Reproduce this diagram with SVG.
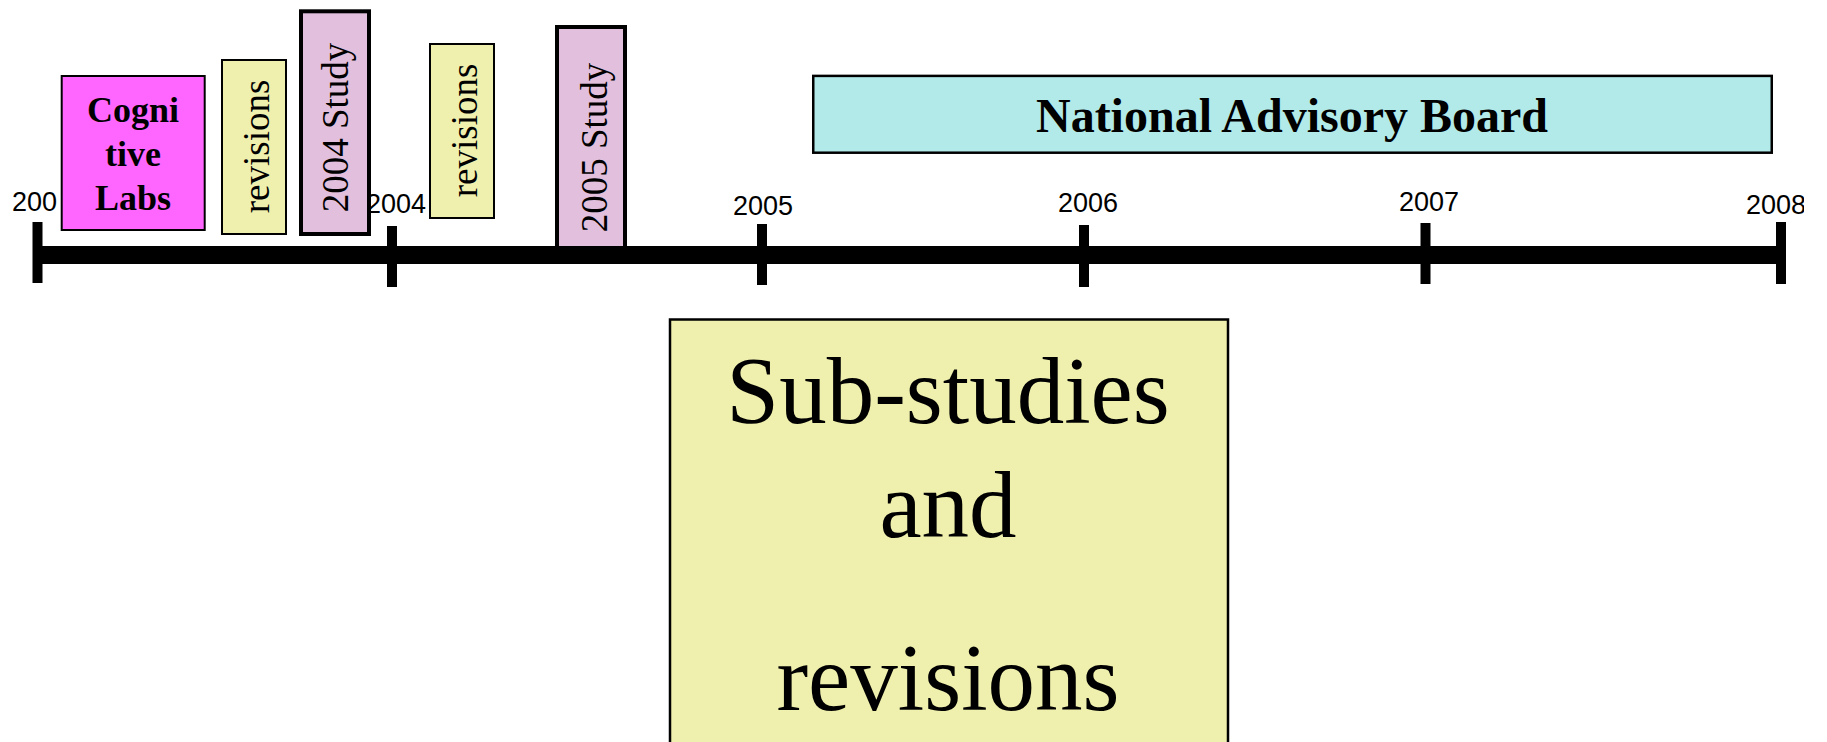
<svg xmlns="http://www.w3.org/2000/svg" width="1827" height="742" viewBox="0 0 1827 742">
  <defs>
    <!-- page edge: the last year label runs off it -->
    <clipPath id="page-edge">
      <rect x="0" y="0" width="1804" height="742"/>
    </clipPath>
  </defs>
  <style>
    .year { font-family: "Liberation Sans", Arial, sans-serif; font-size: 27px; fill: #000; }
    .tick { fill: #000; }
    .box { stroke: #000; stroke-width: 2; }
    .study { fill: #E1BFDD; stroke: #000; stroke-width: 4; }
    .rev { fill: #F0F0AE; }
    .serif { font-family: "Liberation Serif", "Times New Roman", serif; fill: #000; }
    .vlabel { font-size: 37px; text-anchor: middle; }
  </style>

  <!-- year labels along the axis -->
  <g id="year-labels" clip-path="url(#page-edge)">
    <text class="year" x="12" y="211">200</text>
    <text class="year" x="426" y="213" text-anchor="end">2004</text>
    <text class="year" x="763" y="215" text-anchor="middle">2005</text>
    <text class="year" x="1088" y="212" text-anchor="middle">2006</text>
    <text class="year" x="1429" y="211" text-anchor="middle">2007</text>
    <text class="year" x="1746" y="214">2008</text>
  </g>

  <g id="cognitive-labs">
    <rect class="box" x="61.7" y="76" width="143" height="154" fill="#FF66FF"/>
    <text class="serif" font-weight="bold" font-size="36" text-anchor="middle"><tspan x="133" y="121.5">Cogni</tspan><tspan x="133" y="166">tive</tspan><tspan x="133" y="210">Labs</tspan></text>
  </g>

  <g id="revisions-2003">
    <rect class="box rev" x="222" y="60" width="64" height="174"/>
    <text class="serif vlabel" transform="translate(254,146.5) rotate(-90)" x="0" y="15">revisions</text>
  </g>

  <g id="study-2004">
    <rect class="study" x="301" y="11.3" width="68" height="222.7"/>
    <text class="serif vlabel" transform="translate(335,127.5) rotate(-90)" x="0" y="13">2004 Study</text>
  </g>

  <g id="revisions-2004">
    <rect class="box rev" x="430" y="44" width="64" height="174"/>
    <text class="serif vlabel" transform="translate(462,130.5) rotate(-90)" x="0" y="15">revisions</text>
  </g>

  <g id="study-2005">
    <rect class="study" x="557" y="27" width="68" height="225"/>
    <text class="serif vlabel" transform="translate(591,147.5) rotate(-90)" x="0" y="16">2005 Study</text>
  </g>

  <g id="national-advisory-board">
    <rect x="813.25" y="75.9" width="958.5" height="76.8" fill="#B2EAEA" stroke="#000" stroke-width="2.5"/>
    <text class="serif" x="1292" y="132" font-size="48" font-weight="bold" text-anchor="middle">National Advisory Board</text>
  </g>

  <g id="sub-studies">
    <rect x="670" y="319.5" width="558" height="500" fill="#F0F0AE" stroke="#000" stroke-width="2.5"/>
    <text class="serif" font-size="95" text-anchor="middle"><tspan x="948" y="423">Sub-studies</tspan><tspan x="948" y="537">and</tspan><tspan x="948" y="710">revisions</tspan></text>
  </g>

  <!-- timeline axis with year ticks -->
  <g id="connectors">
    <rect class="tick" x="32.5" y="222" width="10" height="61"/>
    <rect class="tick" x="387" y="226" width="10" height="61"/>
    <rect class="tick" x="757" y="224" width="10" height="61"/>
    <rect class="tick" x="1079" y="225" width="10" height="62"/>
    <rect class="tick" x="1420.5" y="223" width="10" height="61"/>
    <rect class="tick" x="1776" y="222" width="10" height="62"/>
    <rect class="tick" x="33" y="246" width="1752" height="18"/>
  </g>
</svg>
